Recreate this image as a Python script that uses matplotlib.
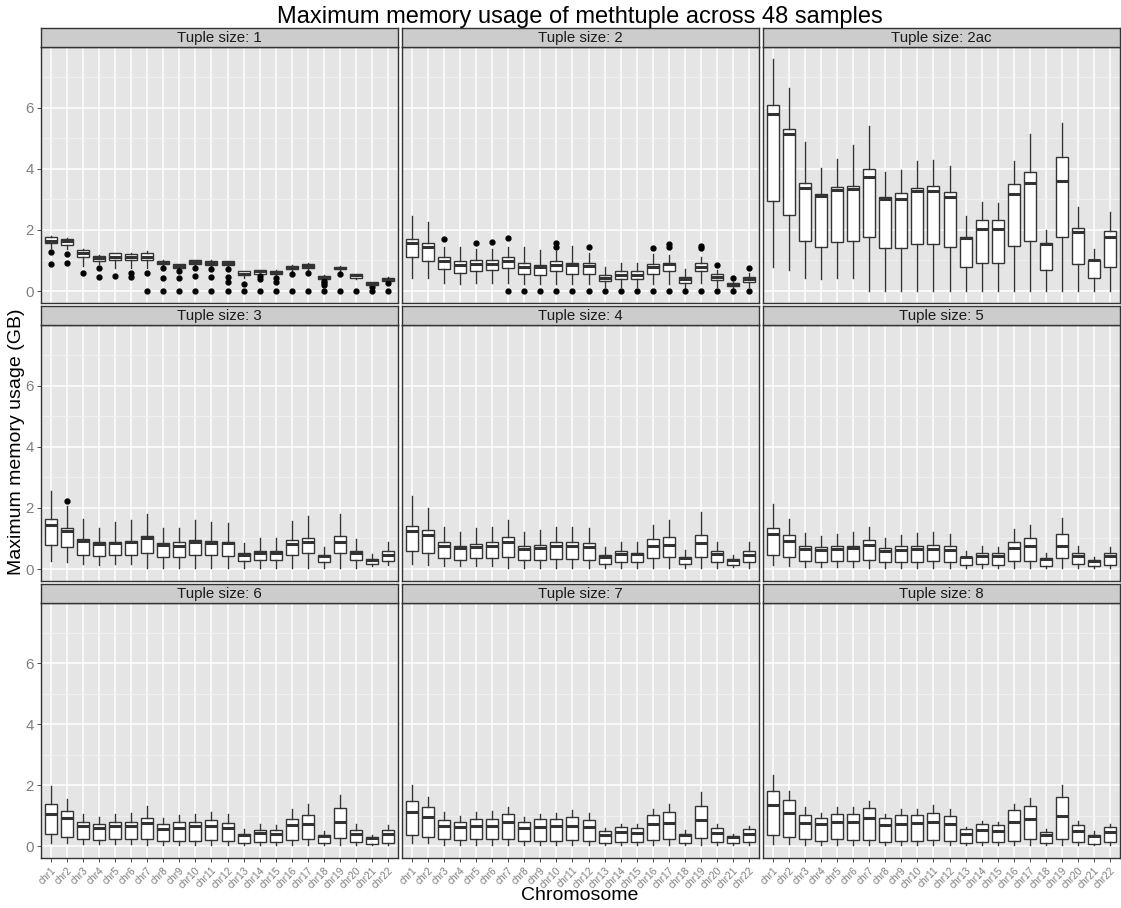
import matplotlib
matplotlib.use('Agg')
import matplotlib.pyplot as plt

plt.rcParams['font.family'] = ['Liberation Sans', 'DejaVu Sans']

chroms = ['chr%d' % i for i in range(1, 23)]
panel_titles = ['Tuple size: 1', 'Tuple size: 2', 'Tuple size: 2ac',
                'Tuple size: 3', 'Tuple size: 4', 'Tuple size: 5',
                'Tuple size: 6', 'Tuple size: 7', 'Tuple size: 8']

# (whisker low, q1, median, q3, whisker high) for chr1..chr22, in GB
size1 = [(1.40, 1.57, 1.65, 1.76, 1.81), (1.37, 1.51, 1.63, 1.70, 1.73), (0.82, 1.10, 1.23, 1.34, 1.37),
         (0.88, 0.98, 1.08, 1.14, 1.19), (0.77, 1.01, 1.12, 1.24, 1.26), (0.77, 1.01, 1.12, 1.21, 1.23),
         (0.77, 1.01, 1.13, 1.26, 1.30), (0.82, 0.88, 0.93, 0.99, 1.01), (0.71, 0.77, 0.82, 0.88, 0.90),
         (0.80, 0.88, 0.96, 1.01, 1.03), (0.80, 0.86, 0.92, 0.99, 1.01), (0.80, 0.86, 0.92, 0.97, 0.99),
         (0.44, 0.51, 0.57, 0.64, 0.66), (0.53, 0.57, 0.64, 0.68, 0.70), (0.53, 0.57, 0.62, 0.66, 0.68),
         (0.66, 0.73, 0.77, 0.81, 0.84), (0.68, 0.77, 0.82, 0.88, 0.91), (0.38, 0.41, 0.46, 0.49, 0.52),
         (0.62, 0.71, 0.76, 0.80, 0.83), (0.40, 0.44, 0.51, 0.55, 0.57), (0.18, 0.20, 0.24, 0.29, 0.31),
         (0.30, 0.33, 0.38, 0.42, 0.45)]
size1_out = [[1.27, 0.88], [1.21, 0.91], [0.58], [0.74, 0.46], [0.49], [0.60, 0.46], [0.60, 0],
             [0.74, 0.44, 0], [0.64, 0.44, 0], [0.74, 0.48, 0], [0.71, 0.47, 0], [0.71, 0.47, 0.31, 0],
             [0.24, 0], [0.49, 0.41, 0], [0.44, 0.31, 0], [0.55, 0], [0.58, 0], [0.34, 0.28, 0.20, 0],
             [0.55, 0], [0], [0.14, 0], [0.26, 0]]

size2 = [(0.44, 1.10, 1.56, 1.70, 2.47), (0.42, 0.99, 1.43, 1.57, 2.25), (0.27, 0.71, 0.99, 1.10, 1.43),
         (0.24, 0.60, 0.86, 0.99, 1.45), (0.25, 0.66, 0.88, 1.02, 1.37), (0.25, 0.68, 0.90, 1.02, 1.37),
         (0.27, 0.74, 0.99, 1.10, 1.43), (0.24, 0.55, 0.80, 0.91, 1.43), (0.22, 0.52, 0.80, 0.86, 1.34),
         (0.24, 0.64, 0.86, 0.97, 1.32), (0.24, 0.57, 0.86, 0.93, 1.48), (0.22, 0.57, 0.82, 0.93, 1.26),
         (0.13, 0.33, 0.44, 0.53, 0.79), (0.13, 0.38, 0.52, 0.64, 0.93), (0.13, 0.38, 0.52, 0.64, 0.93),
         (0.22, 0.55, 0.80, 0.88, 1.21), (0.24, 0.64, 0.88, 0.93, 1.19), (0.11, 0.25, 0.38, 0.46, 0.71),
         (0.27, 0.64, 0.79, 0.91, 1.12), (0.14, 0.35, 0.46, 0.55, 0.68), (0.11, 0.16, 0.22, 0.25, 0.30),
         (0.13, 0.31, 0.38, 0.46, 0.60)]
size2_out = [[], [], [1.70], [], [1.56], [1.59], [1.73, 0], [0], [0], [1.56, 1.45, 0], [0], [1.45, 0],
             [0], [0], [0], [1.40, 0], [1.54, 1.43, 0], [0], [1.48, 1.41, 0], [0.85, 0], [0.42, 0],
             [0.75, 0]]

size2ac = [(0.79, 2.93, 5.79, 6.09, 7.60), (0.69, 2.49, 5.14, 5.31, 6.63), (0.44, 1.65, 3.38, 3.52, 4.87),
           (0.41, 1.45, 3.10, 3.19, 4.04), (0.44, 1.59, 3.32, 3.41, 4.31), (0.44, 1.63, 3.33, 3.43, 4.76),
           (0.00, 1.76, 3.74, 3.99, 5.41), (0.00, 1.41, 3.00, 3.08, 3.88), (0.00, 1.41, 3.02, 3.22, 3.96),
           (0.00, 1.54, 3.26, 3.37, 4.25), (0.00, 1.54, 3.26, 3.45, 4.29), (0.00, 1.45, 3.08, 3.24, 4.10),
           (0.00, 0.79, 1.73, 1.76, 2.44), (0.00, 0.93, 2.03, 2.34, 2.91), (0.00, 0.91, 2.03, 2.33, 2.89),
           (0.00, 1.48, 3.19, 3.49, 4.26), (0.00, 1.65, 3.52, 3.89, 5.14), (0.00, 0.69, 1.54, 1.56, 2.00),
           (0.00, 1.76, 3.60, 4.37, 5.49), (0.00, 0.88, 1.92, 2.05, 2.75), (0.00, 0.42, 1.01, 1.03, 1.37),
           (0.00, 0.80, 1.78, 1.96, 2.58)]

size3 = [(0.27, 0.79, 1.45, 1.63, 2.55), (0.22, 0.73, 1.25, 1.33, 2.07), (0.16, 0.47, 0.92, 0.98, 1.63),
         (0.14, 0.43, 0.82, 0.87, 1.33), (0.16, 0.46, 0.85, 0.90, 1.54), (0.16, 0.47, 0.87, 0.93, 1.60),
         (0.05, 0.51, 1.00, 1.09, 1.79), (0.05, 0.41, 0.78, 0.85, 1.33), (0.05, 0.41, 0.76, 0.87, 1.33),
         (0.05, 0.46, 0.90, 0.96, 1.60), (0.05, 0.46, 0.85, 0.92, 1.55), (0.05, 0.43, 0.84, 0.89, 1.52),
         (0.05, 0.25, 0.47, 0.51, 0.84), (0.05, 0.29, 0.54, 0.60, 1.00), (0.05, 0.29, 0.54, 0.60, 1.00),
         (0.05, 0.47, 0.82, 0.96, 1.58), (0.05, 0.52, 0.90, 1.03, 1.74), (0.05, 0.22, 0.43, 0.46, 0.71),
         (0.05, 0.54, 0.90, 1.07, 1.79), (0.05, 0.29, 0.51, 0.58, 0.98), (0.09, 0.16, 0.29, 0.33, 0.49),
         (0.14, 0.27, 0.47, 0.58, 0.90)]
size3_out = [[], [2.23]] + [[] for _ in range(20)]

size4 = [(0.16, 0.60, 1.25, 1.41, 2.39), (0.14, 0.52, 1.11, 1.27, 2.01), (0.11, 0.35, 0.74, 0.87, 1.36),
         (0.11, 0.30, 0.68, 0.76, 1.22), (0.11, 0.35, 0.73, 0.82, 1.33), (0.11, 0.36, 0.74, 0.87, 1.36),
         (0.05, 0.38, 0.89, 1.05, 1.60), (0.05, 0.29, 0.67, 0.76, 1.20), (0.05, 0.30, 0.68, 0.79, 1.27),
         (0.05, 0.33, 0.74, 0.89, 1.36), (0.05, 0.33, 0.74, 0.90, 1.36), (0.05, 0.30, 0.71, 0.84, 1.33),
         (0.05, 0.18, 0.41, 0.47, 0.71), (0.05, 0.22, 0.49, 0.58, 0.90), (0.05, 0.22, 0.49, 0.54, 0.87),
         (0.05, 0.35, 0.74, 0.98, 1.43), (0.05, 0.38, 0.79, 1.05, 1.60), (0.05, 0.16, 0.36, 0.38, 0.63),
         (0.05, 0.41, 0.85, 1.12, 1.87), (0.05, 0.22, 0.49, 0.58, 0.90), (0.08, 0.13, 0.29, 0.33, 0.46),
         (0.05, 0.22, 0.46, 0.58, 0.87)]

size5 = [(0.14, 0.46, 1.14, 1.34, 2.12), (0.11, 0.38, 0.92, 1.12, 1.65), (0.08, 0.27, 0.67, 0.76, 1.17),
         (0.08, 0.24, 0.63, 0.71, 1.07), (0.08, 0.25, 0.67, 0.76, 1.16), (0.08, 0.27, 0.68, 0.76, 1.20),
         (0.03, 0.29, 0.78, 0.96, 1.39), (0.03, 0.22, 0.60, 0.68, 1.03), (0.03, 0.22, 0.62, 0.76, 1.12),
         (0.03, 0.24, 0.67, 0.76, 1.17), (0.03, 0.25, 0.67, 0.79, 1.20), (0.03, 0.24, 0.63, 0.76, 1.16),
         (0.03, 0.13, 0.38, 0.40, 0.60), (0.03, 0.16, 0.43, 0.52, 0.76), (0.03, 0.14, 0.43, 0.51, 0.71),
         (0.03, 0.25, 0.68, 0.87, 1.30), (0.03, 0.27, 0.74, 1.01, 1.43), (0.03, 0.11, 0.33, 0.36, 0.54),
         (0.03, 0.35, 0.76, 1.14, 1.68), (0.05, 0.16, 0.43, 0.52, 0.74), (0.05, 0.09, 0.25, 0.29, 0.38),
         (0.03, 0.14, 0.43, 0.52, 0.73)]

size6 = [(0.09, 0.39, 1.07, 1.37, 1.96), (0.09, 0.30, 0.92, 1.15, 1.55), (0.07, 0.23, 0.65, 0.79, 1.07),
         (0.07, 0.20, 0.60, 0.72, 0.96), (0.07, 0.23, 0.66, 0.79, 1.07), (0.07, 0.23, 0.66, 0.79, 1.09),
         (0.03, 0.23, 0.76, 0.93, 1.32), (0.03, 0.16, 0.55, 0.72, 0.92), (0.03, 0.17, 0.60, 0.79, 1.01),
         (0.03, 0.17, 0.66, 0.79, 1.07), (0.03, 0.20, 0.66, 0.85, 1.12), (0.03, 0.17, 0.61, 0.76, 1.07),
         (0.03, 0.11, 0.38, 0.41, 0.55), (0.03, 0.14, 0.43, 0.54, 0.72), (0.03, 0.12, 0.41, 0.52, 0.68),
         (0.03, 0.20, 0.68, 0.90, 1.23), (0.03, 0.23, 0.74, 1.01, 1.39), (0.03, 0.09, 0.33, 0.36, 0.49),
         (0.03, 0.27, 0.79, 1.25, 1.68), (0.03, 0.12, 0.41, 0.52, 0.71), (0.03, 0.07, 0.28, 0.30, 0.38),
         (0.03, 0.11, 0.39, 0.52, 0.68)]

size7 = [(0.09, 0.38, 1.12, 1.47, 2.01), (0.09, 0.30, 0.96, 1.27, 1.61), (0.05, 0.22, 0.65, 0.87, 1.12),
         (0.05, 0.20, 0.63, 0.78, 1.00), (0.05, 0.22, 0.67, 0.90, 1.11), (0.05, 0.22, 0.67, 0.89, 1.14),
         (0.05, 0.22, 0.78, 1.05, 1.30), (0.05, 0.16, 0.60, 0.78, 0.96), (0.05, 0.18, 0.63, 0.89, 1.05),
         (0.05, 0.18, 0.65, 0.89, 1.09), (0.05, 0.20, 0.67, 0.95, 1.17), (0.05, 0.18, 0.63, 0.85, 1.09),
         (0.05, 0.11, 0.38, 0.49, 0.58), (0.05, 0.13, 0.46, 0.62, 0.74), (0.05, 0.13, 0.43, 0.58, 0.71),
         (0.05, 0.20, 0.71, 1.01, 1.22), (0.05, 0.22, 0.76, 1.11, 1.38), (0.05, 0.09, 0.36, 0.40, 0.52),
         (0.05, 0.27, 0.87, 1.33, 1.79), (0.05, 0.13, 0.43, 0.60, 0.71), (0.05, 0.09, 0.31, 0.33, 0.41),
         (0.05, 0.13, 0.40, 0.57, 0.65)]

size8 = [(0.07, 0.38, 1.36, 1.80, 2.35), (0.07, 0.30, 1.10, 1.52, 1.80), (0.03, 0.22, 0.76, 1.01, 1.28),
         (0.03, 0.17, 0.72, 0.93, 1.09), (0.03, 0.22, 0.79, 1.07, 1.28), (0.03, 0.20, 0.79, 1.04, 1.28),
         (0.03, 0.20, 0.92, 1.25, 1.48), (0.03, 0.14, 0.68, 0.92, 1.07), (0.03, 0.17, 0.74, 1.01, 1.21),
         (0.03, 0.17, 0.76, 1.01, 1.23), (0.03, 0.20, 0.79, 1.09, 1.34), (0.03, 0.16, 0.72, 0.99, 1.21),
         (0.03, 0.09, 0.41, 0.55, 0.63), (0.03, 0.12, 0.52, 0.71, 0.83), (0.03, 0.12, 0.49, 0.68, 0.79),
         (0.03, 0.17, 0.79, 1.20, 1.39), (0.03, 0.22, 0.88, 1.32, 1.58), (0.03, 0.09, 0.38, 0.45, 0.55),
         (0.03, 0.25, 0.98, 1.61, 1.99), (0.03, 0.12, 0.49, 0.68, 0.82), (0.03, 0.07, 0.33, 0.36, 0.50),
         (0.03, 0.12, 0.45, 0.63, 0.72)]

no_out = [[] for _ in chroms]
panel_stats = [size1, size2, size2ac, size3, size4, size5, size6, size7, size8]
panel_out = [size1_out, size2_out, no_out, size3_out, no_out, no_out, no_out, no_out, no_out]

W, H = 1121, 908
fig = plt.figure(figsize=(W / 100, H / 100), dpi=100)
cols = [(41, 398), (402, 759), (763, 1120)]
rows = [(28, 47, 303), (306, 325, 581), (584, 603, 858)]
dark = '#333333'
grey = '#7F7F7F'

for k in range(9):
    r, c = divmod(k, 3)
    x0, x1 = cols[c]
    st, pt, pb = rows[r]
    ax = fig.add_axes([x0 / W, 1 - pb / H, (x1 - x0) / W, (pb - pt) / H])
    bstats = []
    for s, o in zip(panel_stats[k], panel_out[k]):
        bstats.append(dict(whislo=s[0], q1=s[1], med=s[2], q3=s[3], whishi=s[4], fliers=o))
    pos = list(range(1, len(chroms) + 1))
    ax.bxp(bstats, positions=pos, widths=0.75, patch_artist=True, showcaps=False,
           boxprops=dict(facecolor='white', edgecolor=dark, linewidth=1.0),
           medianprops=dict(color=dark, linewidth=2.2, solid_capstyle='butt'),
           whiskerprops=dict(color=dark, linewidth=1.0),
           flierprops=dict(marker='o', markerfacecolor='black', markeredgecolor='black',
                           markersize=3.5, linestyle='none'))
    ax.set_facecolor('#E5E5E5')
    ax.set_xlim(0.4, 22.6)
    ax.set_ylim(-0.39, 7.98)
    ax.set_yticks([0, 2, 4, 6])
    ax.set_yticks([1, 3, 5, 7], minor=True)
    ax.set_xticks(pos)
    ax.grid(which='major', color='white', linewidth=1.1)
    ax.grid(which='minor', axis='y', color='#F2F2F2', linewidth=0.6)
    ax.set_axisbelow(True)
    for sp in ax.spines.values():
        sp.set_color(dark)
        sp.set_linewidth(1.0)
    ax.tick_params(which='minor', length=0)
    ax.tick_params(axis='both', colors=dark, length=3, width=0.6, labelcolor=grey, pad=2)
    if c == 0:
        ax.set_yticklabels(['0', '2', '4', '6'], fontsize=10.8)
    else:
        ax.tick_params(axis='y', length=0, labelleft=False)
    if r == 2:
        ax.set_xticklabels(chroms, fontsize=7.3, rotation=45, ha='right', va='top',
                           rotation_mode='anchor')
    else:
        ax.tick_params(axis='x', length=0, labelbottom=False)

    sax = fig.add_axes([x0 / W, 1 - pt / H, (x1 - x0) / W, (pt - st) / H])
    sax.set_facecolor('#CCCCCC')
    sax.set_xticks([])
    sax.set_yticks([])
    for sp in sax.spines.values():
        sp.set_color(dark)
        sp.set_linewidth(1.0)
    sax.text(0.5, 0.45, panel_titles[k], ha='center', va='center', fontsize=10.8,
             color='#1A1A1A', transform=sax.transAxes)

fig.text(580 / W, 1 - 17 / H, 'Maximum memory usage of methtuple across 48 samples',
         ha='center', va='center', fontsize=17)
fig.text(580 / W, 1 - 895 / H, 'Chromosome', ha='center', va='center', fontsize=14)
fig.text(17 / W, 1 - 442 / H, 'Maximum memory usage (GB)', ha='center', va='center',
         rotation=90, fontsize=14)

fig.savefig('out.png', dpi=100)
